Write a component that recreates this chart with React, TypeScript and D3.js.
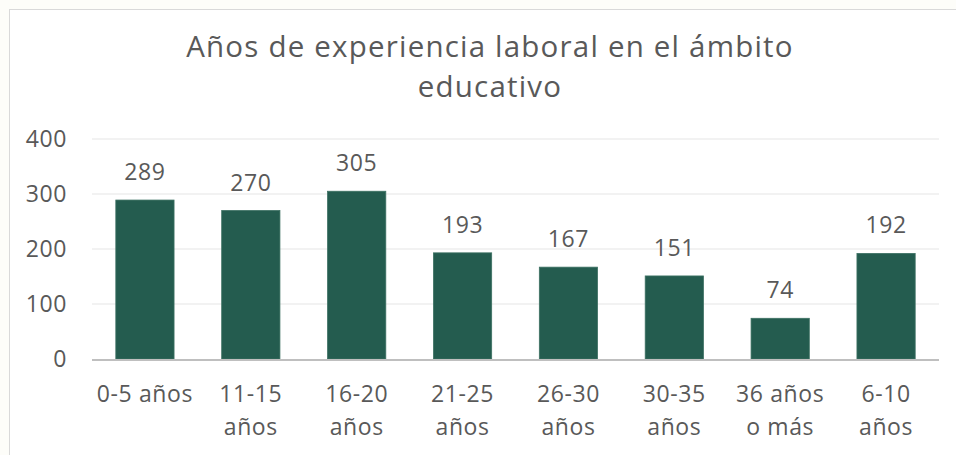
import React from "react";
import * as d3 from "d3";

const titleLines = ["Años de experiencia laboral en el ámbito", "educativo"];
const categories = ["0-5 años", "11-15 años", "16-20 años", "21-25 años", "26-30 años", "30-35 años", "36 años o más", "6-10 años"];
const values = [289, 270, 305, 193, 167, 151, 74, 192];
const yTicks = [0, 100, 200, 300, 400];

const FONT = "'Open Sans', 'Noto Sans', sans-serif";
const TEXT = "#595959";
const BAR = "#245C4F";

function wrap(text: string, maxChars: number): string[] {
  const words = text.split(" ");
  const lines: string[] = [];
  let cur = "";
  for (const w of words) {
    const t = cur ? cur + " " + w : w;
    if (cur && t.length > maxChars) {
      lines.push(cur);
      cur = w;
    } else cur = t;
  }
  if (cur) lines.push(cur);
  return lines;
}

export default function App() {
  const W = 956, H = 455;
  const left = 92, right = 939, top = 139, bottom = 359;
  const x = d3.scaleBand<string>().domain(categories).range([left, right]).paddingInner(0.45).paddingOuter(0.225);
  const y = d3.scaleLinear().domain([0, 400]).range([bottom, top]);
  const fs = 23;
  const ls = 0.6;

  return (
    <svg width={W} height={H} style={{ position: "absolute", left: 0, top: 0, background: "#fdfdf9" }}>
      <rect x={9.5} y={9.5} width={980} height={470} fill="#ffffff" stroke="#d9d9d9" strokeWidth={1} />
      {titleLines.map((t, i) => (
        <text key={i} x={490} y={57 + i * 40} textAnchor="middle" fontFamily={FONT} fontSize={29.5} fill={TEXT} letterSpacing={1.2}>
          {t}
        </text>
      ))}
      {yTicks.map((t) => (
        <g key={t}>
          {t !== 0 && <line x1={left} x2={right} y1={y(t)} y2={y(t)} stroke="#eeeeee" strokeWidth={1.5} />}
          <text x={67} y={y(t)} dy="0.35em" textAnchor="end" fontFamily={FONT} fontSize={fs} fill={TEXT} letterSpacing={ls}>
            {t}
          </text>
        </g>
      ))}
      {categories.map((c, i) => {
        const bx = x(c)!;
        const bw = x.bandwidth();
        const cx = bx + bw / 2;
        const lines = wrap(c, 8);
        return (
          <g key={c}>
            <rect x={bx} y={y(values[i])} width={bw} height={bottom - y(values[i])} fill={BAR} stroke="#3d7163" strokeWidth={0.8} />
            <text x={cx} y={y(values[i]) - 20} textAnchor="middle" fontFamily={FONT} fontSize={fs} fill={TEXT} letterSpacing={ls}>
              {values[i]}
            </text>
            {lines.map((l, j) => (
              <text key={j} x={cx} y={402 + j * 33} textAnchor="middle" fontFamily={FONT} fontSize={fs} fill={TEXT} letterSpacing={ls}>
                {l}
              </text>
            ))}
          </g>
        );
      })}
      <line x1={left} x2={right} y1={bottom + 1} y2={bottom + 1} stroke="#bfbfbf" strokeWidth={2} />
    </svg>
  );
}
